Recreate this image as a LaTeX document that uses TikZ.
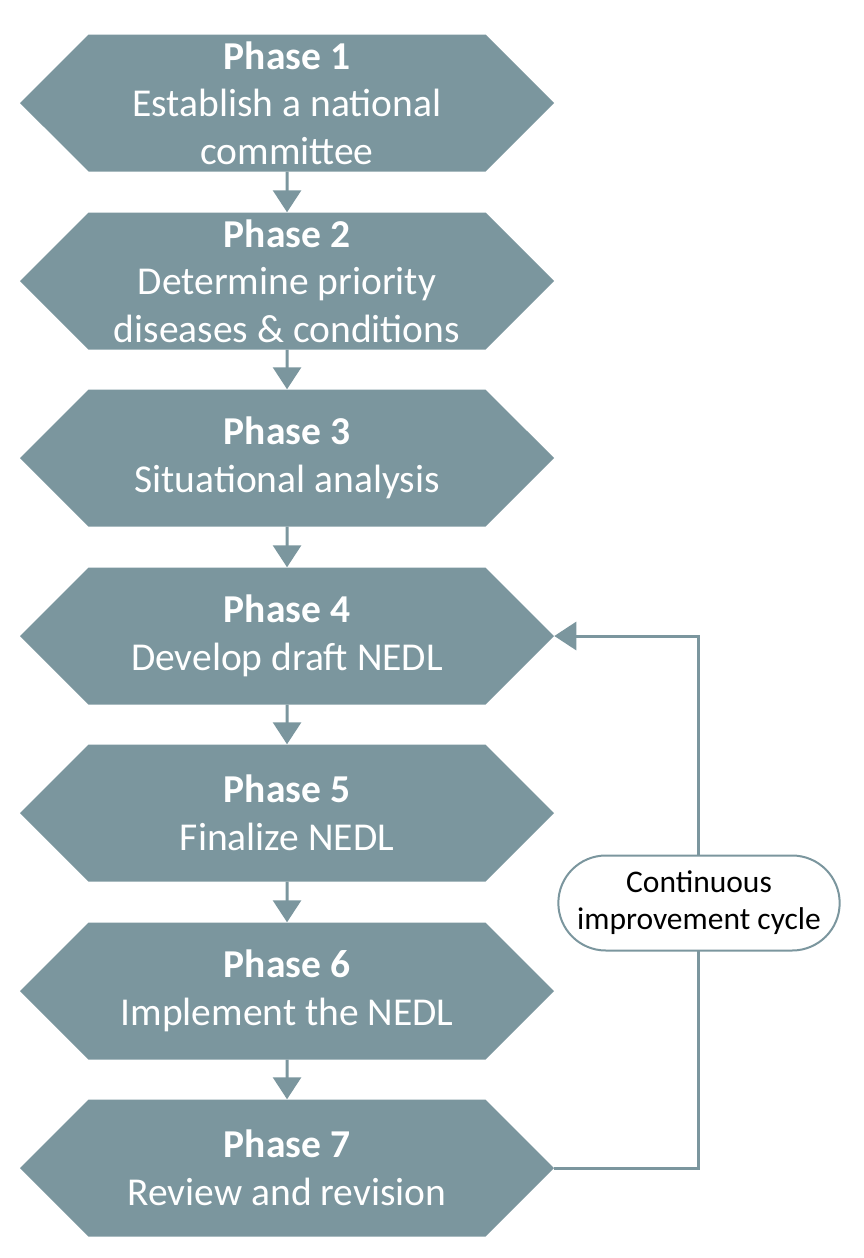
\documentclass[tikz,border=0pt]{standalone}
\usepackage{fontspec}
\setmainfont{Carlito}
\usetikzlibrary{shapes.symbols, shapes.misc, arrows.meta}
\definecolor{phasegray}{HTML}{7B969E}

\begin{document}
\begin{tikzpicture}[x=1pt, y=-1pt,
  phase/.style={signal, signal to=east and west, signal pointer angle=90,
    fill=phasegray, draw=none, text=white, minimum width=534pt, minimum height=137pt,
    inner sep=0pt, align=center, font=\fontsize{39.5}{47.5}\selectfont},
  link/.style={phasegray, line width=3pt, -{Triangle[width=28pt, length=22pt]}},
  cyclebox/.style={rounded rectangle, draw=phasegray, line width=2pt, fill=white,
    minimum width=288pt, minimum height=95pt, align=center,
    font=\fontsize{31.5}{37}\selectfont}]
  \useasboundingbox (0,0) rectangle (864,1258);
  \node[phase] (p1) at (287,103) {\textbf{Phase 1}\\Establish a national\\committee};
  \node[phase] (p2) at (287,281) {\textbf{Phase 2}\\Determine priority\\diseases \& conditions};
  \node[phase] (p3) at (287,458) {\textbf{Phase 3}\\Situational analysis};
  \node[phase] (p4) at (287,636) {\textbf{Phase 4}\\Develop draft NEDL};
  \node[phase] (p5) at (287,813) {\textbf{Phase 5}\\Finalize NEDL};
  \node[phase] (p6) at (287,991) {\textbf{Phase 6}\\Implement the NEDL};
  \node[phase] (p7) at (287,1168) {\textbf{Phase 7}\\Review and revision};
  \draw[link] (p1) -- (p2);
  \draw[link] (p2) -- (p3);
  \draw[link] (p3) -- (p4);
  \draw[link] (p4) -- (p5);
  \draw[link] (p5) -- (p6);
  \draw[link] (p6) -- (p7);
  % loop back to phase 4
  \coordinate (turn) at (698,1168);
  \draw[link] (p7.east) -- (turn) |- (p4.east);
  \node[cyclebox] (cycle) at (699,903) {Continuous\\improvement cycle};
\end{tikzpicture}
\end{document}
